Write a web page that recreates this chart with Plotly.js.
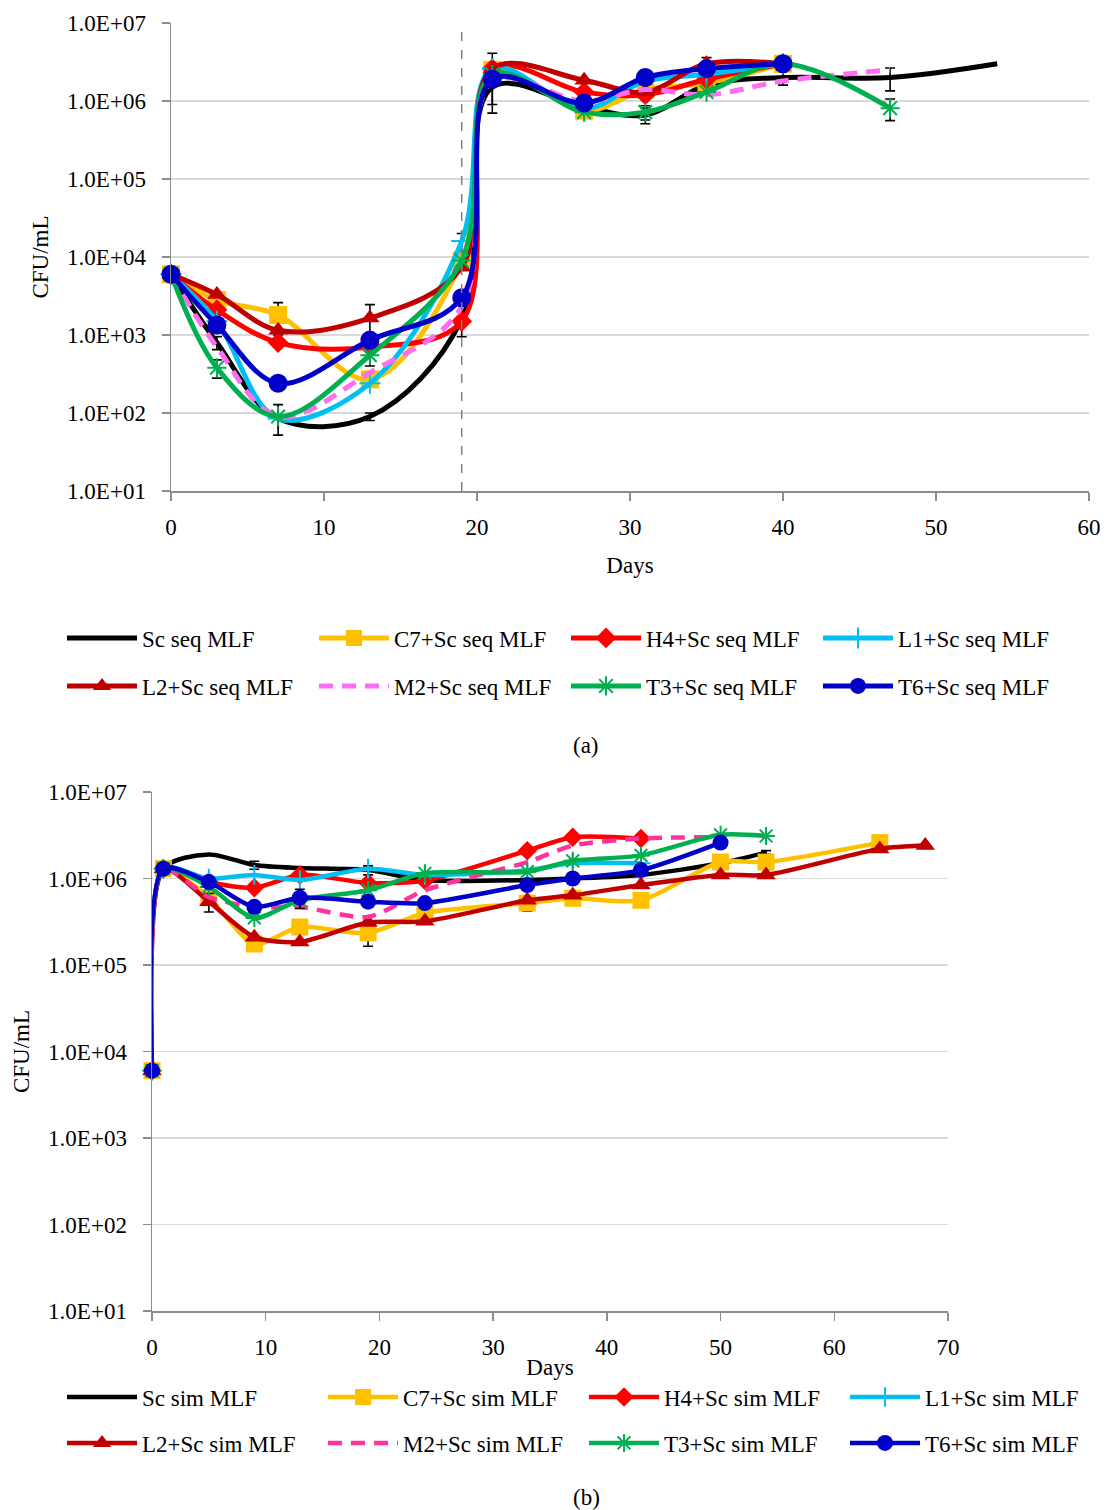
<!DOCTYPE html>
<html>
<head>
<meta charset="utf-8">
<script src="https://cdn.plot.ly/plotly-3.0.1.min.js"></script>
<style>
  html, body { margin: 0; padding: 0; background: #fff; }
  #chart { width: 1106px; height: 1510px; }
</style>
</head>
<body>
<div id="chart"></div>
<script>
// ---- Sampling days ----
const daysSeq = [0, 3, 7, 13, 19, 21, 27, 31, 35, 40, 47, 54];
const daysSim = [0, 1, 5, 9, 13, 19, 24, 33, 37, 43, 50, 54, 64, 68];

// Day of Saccharomyces inoculation in the sequential trial
const inoculationDay = 19;

// ---- Y tick labels (CFU/mL, log scale) ----
const yTickVals = [1e1, 1e2, 1e3, 1e4, 1e5, 1e6, 1e7];
const yTickText = ['1.0E+01', '1.0E+02', '1.0E+03', '1.0E+04', '1.0E+05', '1.0E+06', '1.0E+07'];

// ---- (a) sequential MLF: counts (CFU/mL) ----
const scSeq = [6000, 800, 85, 90, 1600, 1.5e6, 8.4e5, 6.6e5, 1.6e6, 2.0e6, 2.0e6, 3.0e6];
const c7Seq = [6000, 2800, 1800, 270, 9000, 2.5e6, 7.5e5, 1.4e6, 1.7e6, 3.0e6];
const h4Seq = [6000, 2100, 800, 700, 1500, 2.6e6, 1.3e6, 1.2e6, 1.9e6, 3.0e6];
const l1Seq = [6000, 1500, 85, 240, 16000, 2.6e6, 8.0e5, 1.8e6, 2.2e6, 3.0e6];
const l2Seq = [6000, 3300, 1150, 1650, 7400, 2.6e6, 1.85e6, 1.3e6, 3.0e6, 3.0e6];
const m2Seq = [6000, 700, 90, 330, 2300, 1.8e6, 1.0e6, 1.4e6, 1.2e6, 1.8e6, 2.5e6];
const t3Seq = [6000, 380, 90, 550, 9000, 2.2e6, 7.2e5, 7.2e5, 1.3e6, 3.0e6, 8.1e5];
const t6Seq = [6000, 1340, 240, 860, 3000, 1.9e6, 9.4e5, 2.0e6, 2.6e6, 3.0e6];

// standard deviations (NaN = no bar)
const scSeqSd = [NaN, 150, NaN, 10, NaN, 8e5, 1.5e5, 1.5e5, NaN, 4e5, 6.5e5, NaN];
const c7SeqSd = [NaN, NaN, 800, NaN, NaN, 1.6e6, NaN, NaN, NaN, NaN];
const h4SeqSd = [NaN, NaN, NaN, NaN, 550, NaN, NaN, NaN, NaN, NaN];
const l1SeqSd = [NaN, NaN, NaN, NaN, 4000, NaN, NaN, NaN, NaN, NaN];
const l2SeqSd = [NaN, NaN, NaN, 800, NaN, NaN, NaN, NaN, 6e5, NaN];
const t3SeqSd = [NaN, 100, 38, 150, NaN, NaN, NaN, 1.5e5, NaN, NaN, 2.5e5];

// ---- (b) simultaneous MLF: counts (CFU/mL) ----
const scSim = [6000, 1.3e6, 1.9e6, 1.43e6, 1.32e6, 1.25e6, 9.6e5, 9.6e5, 1.0e6, 1.1e6, 1.5e6, 2.0e6];
const c7Sim = [6000, 1.3e6, 6.0e5, 1.75e5, 2.75e5, 2.35e5, 4.0e5, 5.2e5, 5.9e5, 5.6e5, 1.55e6, 1.55e6, 2.6e6];
const h4Sim = [6000, 1.3e6, 9.1e5, 7.8e5, 1.1e6, 8.9e5, 9.5e5, 2.1e6, 3.0e6, 2.9e6];
const l1Sim = [6000, 1.3e6, 1.0e6, 1.1e6, 9.6e5, 1.3e6, 1.1e6, 1.25e6, 1.5e6, 1.5e6];
const l2Sim = [6000, 1.3e6, 5.4e5, 2.1e5, 1.85e5, 3.1e5, 3.2e5, 5.6e5, 6.4e5, 8.4e5, 1.1e6, 1.1e6, 2.2e6, 2.4e6];
const m2Sim = [6000, 1.3e6, 6.1e5, 4.7e5, 4.7e5, 3.6e5, 7.3e5, 1.55e6, 2.4e6, 2.9e6, 3.0e6];
const t3Sim = [6000, 1.3e6, 8.0e5, 3.5e5, 5.6e5, 7.3e5, 1.15e6, 1.2e6, 1.6e6, 1.85e6, 3.2e6, 3.1e6];
const t6Sim = [6000, 1.3e6, 9.1e5, 4.7e5, 6.0e5, 5.4e5, 5.2e5, 8.4e5, 1.0e6, 1.25e6, 2.6e6];

const scSimSd = [NaN, NaN, NaN, 1.5e5, NaN, 1.5e5, NaN, NaN, NaN, NaN, NaN, 1e5];
const c7SimSd = [NaN, NaN, NaN, 3e4, NaN, 7e4, NaN, 1e5, NaN, NaN, NaN, NaN, NaN];
const l2SimSd = [NaN, NaN, 1.3e5, NaN, NaN, NaN, NaN, NaN, NaN, NaN, NaN, NaN, NaN, NaN];
const t6SimSd = [NaN, NaN, NaN, NaN, 1.5e5, NaN, NaN, NaN, NaN, NaN, NaN];

// ---- styling helpers ----
const FONT = 'Liberation Serif, Times New Roman, serif';
const W = 1106, H = 1510;

function series(name, days, values, color, symbol, size, opts) {
  opts = opts || {};
  const trace = {
    type: 'scatter',
    mode: symbol ? 'lines+markers' : 'lines',
    name: name,
    x: days.slice(0, values.length),
    y: values,
    xaxis: opts.xaxis,
    yaxis: opts.yaxis,
    legend: opts.legend,
    line: {
      color: color, width: opts.width || 5, shape: 'spline',
      smoothing: opts.smoothing || 1, dash: opts.dash || 'solid'
    },
    cliponaxis: false
  };
  if (symbol) {
    const open = symbol.indexOf('open') >= 0;
    trace.marker = { symbol: symbol, size: size, color: color, line: { color: color, width: open ? 2 : 0 } };
  }
  if (opts.sd) {
    trace.error_y = { type: 'data', array: opts.sd, visible: true, color: '#000', thickness: 1.6, width: 5 };
  }
  return trace;
}

const A = { xaxis: 'x', yaxis: 'y' };
const B = { xaxis: 'x2', yaxis: 'y2', width: 4.5, smoothing: 0.75 };

const traces = [
  series('Sc seq MLF', daysSeq, scSeq, '#000000', null, 0, Object.assign({ legend: 'legend', sd: scSeqSd }, A)),
  series('C7+Sc seq MLF', daysSeq, c7Seq, '#FFC000', 'square', 18, Object.assign({ legend: 'legend', sd: c7SeqSd }, A)),
  series('H4+Sc seq MLF', daysSeq, h4Seq, '#FF0000', 'diamond', 16, Object.assign({ legend: 'legend', sd: h4SeqSd }, A)),
  series('L1+Sc seq MLF', daysSeq, l1Seq, '#00C0F2', 'cross-thin-open', 15, Object.assign({ legend: 'legend', sd: l1SeqSd }, A)),
  series('L2+Sc seq MLF', daysSeq, l2Seq, '#C00000', 'triangle-up', 17, Object.assign({ legend: 'legend2', sd: l2SeqSd }, A)),
  series('M2+Sc seq MLF', daysSeq, m2Seq, '#FF6EF2', null, 0, Object.assign({ legend: 'legend2', dash: '14px,9px' }, A)),
  series('T3+Sc seq MLF', daysSeq, t3Seq, '#00B050', 'asterisk-open', 16, Object.assign({ legend: 'legend2', sd: t3SeqSd }, A)),
  series('T6+Sc seq MLF', daysSeq, t6Seq, '#0000C8', 'circle', 19, Object.assign({ legend: 'legend2' }, A)),

  series('Sc sim MLF', daysSim, scSim, '#000000', null, 0, Object.assign({ legend: 'legend3', sd: scSimSd }, B)),
  series('C7+Sc sim MLF', daysSim, c7Sim, '#FFC000', 'square', 17, Object.assign({ legend: 'legend3', sd: c7SimSd }, B)),
  series('H4+Sc sim MLF', daysSim, h4Sim, '#FF0000', 'diamond', 15, Object.assign({ legend: 'legend3' }, B)),
  series('L1+Sc sim MLF', daysSim, l1Sim, '#00C0F2', 'cross-thin-open', 14, Object.assign({ legend: 'legend3' }, B)),
  series('L2+Sc sim MLF', daysSim, l2Sim, '#C00000', 'triangle-up', 17, Object.assign({ legend: 'legend4', sd: l2SimSd }, B)),
  series('M2+Sc sim MLF', daysSim, m2Sim, '#FF3399', null, 0, Object.assign({ legend: 'legend4', dash: '14px,9px' }, B)),
  series('T3+Sc sim MLF', daysSim, t3Sim, '#00B050', 'asterisk-open', 15, Object.assign({ legend: 'legend4' }, B)),
  series('T6+Sc sim MLF', daysSim, t6Sim, '#0000C8', 'circle', 16, Object.assign({ legend: 'legend4', sd: t6SimSd }, B))
];

function xAxis(domainPx, range, anchor, standoff) {
  return {
    domain: [domainPx[0] / W, domainPx[1] / W],
    anchor: anchor,
    range: range,
    dtick: 10,
    tick0: 0,
    showgrid: false,
    zeroline: false,
    showline: true,
    linecolor: '#8C8C8C',
    linewidth: 1.5,
    ticks: 'outside',
    ticklen: 8,
    tickwidth: 1.5,
    tickcolor: '#8C8C8C',
    ticklabelstandoff: 7,
    tickfont: { family: FONT, size: 23, color: '#000' },
    title: { text: 'Days', font: { family: FONT, size: 23, color: '#000' }, standoff: standoff },
    fixedrange: true
  };
}

function yAxis(domainPx, anchor, standoff) {
  return {
    domain: [1 - domainPx[1] / H, 1 - domainPx[0] / H],
    anchor: anchor,
    type: 'log',
    range: [1, 7],
    tickvals: yTickVals,
    ticktext: yTickText,
    showgrid: true,
    gridcolor: '#D9D9D9',
    gridwidth: 1.5,
    zeroline: false,
    showline: true,
    linecolor: '#8C8C8C',
    linewidth: 1.5,
    ticks: 'outside',
    ticklen: 8,
    tickwidth: 1.5,
    tickcolor: '#8C8C8C',
    ticklabelstandoff: 11,
    tickfont: { family: FONT, size: 23, color: '#000' },
    title: { text: 'CFU/mL', font: { family: FONT, size: 23, color: '#000' }, standoff: standoff },
    fixedrange: true
  };
}

function legendRow(xPx, yPx, entryW) {
  return {
    orientation: 'h',
    x: xPx / W, y: 1 - yPx / H,
    xanchor: 'left', yanchor: 'middle',
    itemwidth: 70,
    entrywidth: entryW, entrywidthmode: 'pixels',
    font: { family: FONT, size: 23, color: '#000' },
    bgcolor: 'rgba(0,0,0,0)',
    borderwidth: 0
  };
}

const layout = {
  width: W, height: H,
  margin: { l: 0, r: 0, t: 0, b: 0, autoexpand: false },
  paper_bgcolor: '#fff',
  plot_bgcolor: '#fff',
  font: { family: FONT, size: 23, color: '#000' },
  showlegend: true,
  xaxis: xAxis([171, 1089], [0, 60], 'y', 18),
  yaxis: yAxis([23, 491], 'x', 12),
  xaxis2: xAxis([152, 948], [0, 70], 'y2', 0),
  yaxis2: yAxis([792, 1311], 'x2', 12),
  legend: legendRow(62, 638, 167),
  legend2: legendRow(62, 686, 167),
  legend3: legendRow(62, 1397, 176),
  legend4: legendRow(62, 1443, 176),
  shapes: [{
    type: 'line', xref: 'x', yref: 'y domain',
    x0: inoculationDay, x1: inoculationDay, y0: 0, y1: 1,
    line: { color: '#808080', width: 1.5, dash: 'dash' }
  }],
  annotations: [
    { text: '(a)', xref: 'paper', yref: 'paper', x: 586 / W, y: 1 - 745 / H, showarrow: false,
      font: { family: FONT, size: 23, color: '#000' }, xanchor: 'center', yanchor: 'middle' },
    { text: '(b)', xref: 'paper', yref: 'paper', x: 586 / W, y: 1 - 1497 / H, showarrow: false,
      font: { family: FONT, size: 23, color: '#000' }, xanchor: 'center', yanchor: 'middle' }
  ]
};

Plotly.newPlot('chart', traces, layout, { displayModeBar: false, staticPlot: true });
</script>
</body>
</html>
